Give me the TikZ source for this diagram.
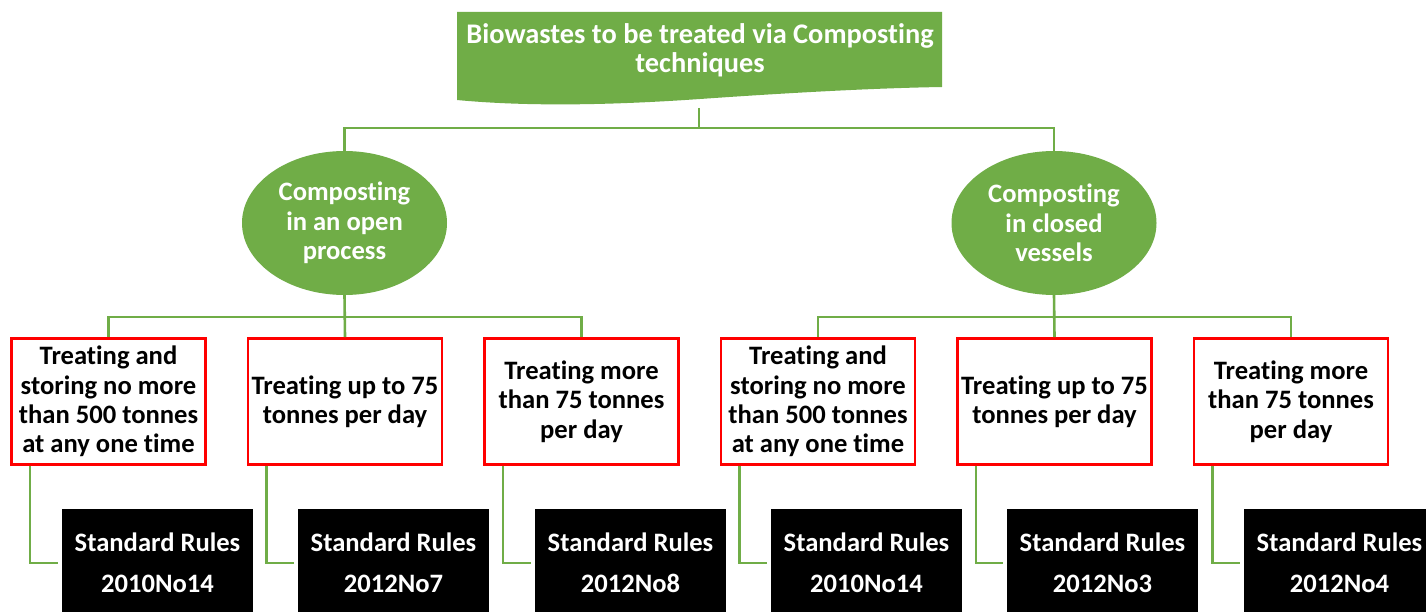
\documentclass[tikz,border=0pt]{standalone}
\usepackage{fontspec}
\setmainfont{Carlito}[Ligatures=NoCommon]
\usetikzlibrary{shapes.geometric,calc}
\definecolor{leaf}{RGB}{112,173,71}
\definecolor{alarm}{RGB}{255,0,0}
\begin{document}
\begin{tikzpicture}[x=1pt,y=-1pt,
  every node/.style={font=\bfseries\fontsize{26.6}{29.3}\selectfont, align=center, inner sep=0pt},
  link/.style={draw=leaf, line width=2.6pt},
  process/.style={ellipse, fill=leaf, text=white, minimum width=205pt, minimum height=144pt},
  activity/.style={rectangle, draw=alarm, line width=2.8pt, fill=white, text=black,
                   minimum width=194pt, minimum height=126pt},
  permit/.style={rectangle, fill=black, text=white, minimum width=191pt, minimum height=108pt,
                 font=\bfseries\fontsize{26.6}{41}\selectfont}
]
\clip (0,0) rectangle (1426,612);
\fill[white] (0,0) rectangle (1426,612);

% wavy banner at the top
\fill[leaf] (457,12) -- (942,12) -- (942,87)
  .. controls (880,88) and (800,92) .. (700,99)
  .. controls (600,106) and (520,106) .. (457,100) -- cycle;
\node[text=white, font=\bfseries\fontsize{28.4}{29.3}\selectfont] (top) at (700,50)
  {Biowastes to be treated via Composting\\techniques};
\coordinate (topstub) at (699,108);
\coordinate (bus1) at (699,128);
\coordinate (bus2) at (699,317);

% composting methods
\node[process] (open) at (344.5,223) {Composting\\in an open\\process};
\node[process] (closed) at (1054,223) {Composting\\in closed\\vessels};

% activities
\node[activity] (r1) at (108.5,401.5) {Treating and\\storing no more\\than 500 tonnes\\at any one time};
\node[activity] (r2) at (345,401.5) {Treating up to 75\\tonnes per day};
\node[activity] (r3) at (581.5,401.5) {Treating more\\than 75 tonnes\\per day};
\node[activity] (r4) at (818,401.5) {Treating and\\storing no more\\than 500 tonnes\\at any one time};
\node[activity] (r5) at (1054.5,401.5) {Treating up to 75\\tonnes per day};
\node[activity] (r6) at (1291,401.5) {Treating more\\than 75 tonnes\\per day};

% standard rules
\node[permit] (b1) at (157.5,563) {Standard Rules\\2010No14};
\node[permit] (b2) at (393.5,563) {Standard Rules\\2012No7};
\node[permit] (b3) at (630.5,563) {Standard Rules\\2012No8};
\node[permit] (b4) at (866.5,563) {Standard Rules\\2010No14};
\node[permit] (b5) at (1102.5,563) {Standard Rules\\2012No3};
\node[permit] (b6) at (1339.5,563) {Standard Rules\\2012No4};

% tree connectors
\draw[link] (topstub) -- (bus1);
\draw[link] (open.north) -- (open.north |- bus1) -- (closed.north |- bus1) -- (closed.north);
\draw[link] (open.south) -- (r2.north);
\draw[link] (r1.north) -- (r1.north |- bus2) -- (r3.north |- bus2) -- (r3.north);
\draw[link] (closed.south) -- (r5.north);
\draw[link] (r4.north) -- (r4.north |- bus2) -- (r6.north |- bus2) -- (r6.north);

% elbow links to the rules
\foreach \i in {1,...,6}{
  \draw[link, shorten >=4pt] ([xshift=20pt]r\i.south west) |- (b\i.west);
}
\end{tikzpicture}
\end{document}
